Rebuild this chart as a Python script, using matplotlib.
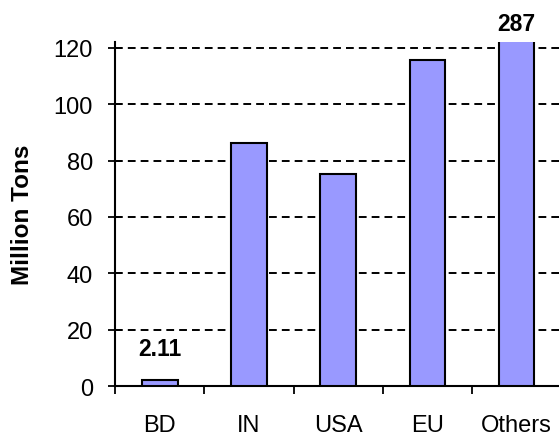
import numpy as np
import matplotlib.pyplot as plt

plt.rcParams['font.family'] = ['Liberation Sans', 'DejaVu Sans']

categories = ['BD', 'IN', 'USA', 'EU', 'Others']
values = [2.11, 86.2, 75.2, 115.6, 287]
labels = {0: '2.11', 4: '287'}

fig = plt.figure(figsize=(5.59, 4.39), dpi=100)
ax = fig.add_axes([0.206, 0.118, 0.798, 0.784])

x = np.arange(len(categories))
ax.bar(x, values, width=0.4, color='#9999ff', edgecolor='black', linewidth=1.5, zorder=3)

ax.set_ylim(0, 122)
ax.set_xlim(-0.5, 4.5)
ax.set_yticks([0, 20, 40, 60, 80, 100, 120])
ax.yaxis.grid(True, color='black', linestyle=(0, (4, 2.6)), linewidth=1.4, zorder=1)
ax.tick_params(axis='y', direction='inout', length=10, width=1.3, labelsize=17, pad=11)

ax.set_xticks(x)
ax.set_xticklabels(categories)
ax.set_xticks(np.arange(-0.5, 5, 1), minor=True)
ax.tick_params(axis='x', which='major', length=0, labelsize=17, pad=20)
ax.tick_params(axis='x', which='minor', direction='out', length=6, width=1.3)

for s in ['top', 'right']:
    ax.spines[s].set_visible(False)
for s in ['left', 'bottom']:
    ax.spines[s].set_linewidth(1.5)

fig.text(23 / 559, 0.51, 'Million Tons', rotation=90, ha='center', va='center',
         fontsize=17.5, fontweight='bold')

ax.text(0, 13.5, labels[0], ha='center', va='center', fontsize=16.5, fontweight='bold')
ax.text(4, 128.5, labels[4], ha='center', va='center', fontsize=16.5, fontweight='bold', clip_on=False)

plt.savefig('out.png', dpi=100)
